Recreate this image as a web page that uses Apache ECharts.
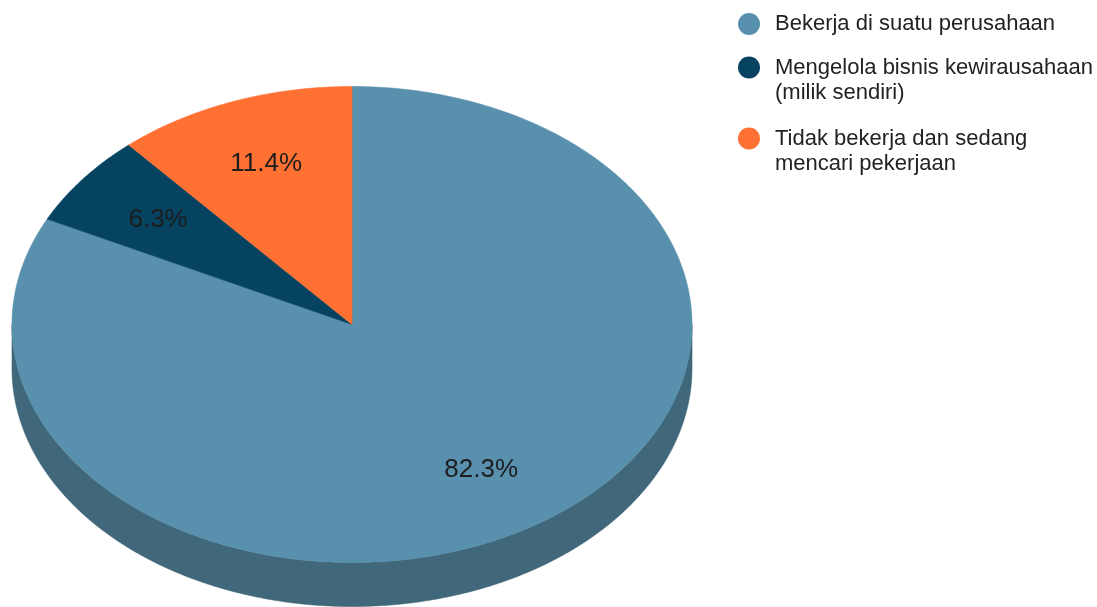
<!DOCTYPE html>
<html>
<head>
<meta charset="utf-8">
<title>Status pekerjaan</title>
<script src="https://cdn.jsdelivr.net/npm/echarts@6.0.0/dist/echarts.min.js"></script>
<style>
  html, body { margin: 0; padding: 0; background: #ffffff; }
  #chart { width: 1097px; height: 607px; }
</style>
</head>
<body>
<div id="chart"></div>
<script>
// Categories and their shares (percent)
const categories = [
  'Bekerja di suatu perusahaan',
  'Mengelola bisnis kewirausahaan (milik sendiri)',
  'Tidak bekerja dan sedang mencari pekerjaan'
];
const shares = [82.3, 6.3, 11.4];
// Wrapped legend text, one line per entry
const legendLines = [
  ['Bekerja di suatu perusahaan'],
  ['Mengelola bisnis kewirausahaan', '(milik sendiri)'],
  ['Tidak bekerja dan sedang', 'mencari pekerjaan']
];

// Styling
const topColors  = ['#5890ae', '#054361', '#ff7133'];
const sideColors = ['#40677a', '#03304a', '#b85224'];
const FONT = '"Liberation Sans", Arial, "DejaVu Sans", sans-serif';

// Tilted pie geometry
const CX = 352, CY = 324.5, RX = 340, RY = 238, DEPTH = 44;
const LABEL_R = 0.72;

const total = shares.reduce((a, b) => a + b, 0);
const starts = [];
shares.reduce((acc, v, i) => { starts[i] = acc; return acc + v; }, 0);

// Point on the rim, angle measured clockwise from 12 o'clock
function rim(deg, dy, f) {
  const r = deg * Math.PI / 180;
  const k = f == null ? 1 : f;
  return [CX + RX * k * Math.sin(r), CY - RY * k * Math.cos(r) + (dy || 0)];
}
function arc(a0, a1, dy) {
  const pts = [];
  const n = Math.max(2, Math.ceil(Math.abs(a1 - a0) / 0.5));
  for (let s = 0; s <= n; s++) pts.push(rim(a0 + (a1 - a0) * s / n, dy));
  return pts;
}

// Outer wall: only the front half (90..270 deg) is visible
function renderSide(params, api) {
  const i = params.dataIndex;
  const a0 = starts[i] / total * 360;
  const a1 = a0 + api.value(0) / total * 360;
  const b0 = Math.max(a0, 90), b1 = Math.min(a1, 270);
  if (b1 <= b0) return null;
  const pts = arc(b0, b1, 0).concat(arc(b1, b0, DEPTH));
  return {
    type: 'polygon',
    shape: { points: pts },
    style: { fill: sideColors[i], stroke: sideColors[i], lineWidth: 0.6 }
  };
}

// Top face of a slice with its percentage label
function makeTopRenderer(i) {
  return function (params, api) {
    const v = api.value(0);
    const a0 = starts[i] / total * 360;
    const a1 = a0 + v / total * 360;
    const pts = [[CX, CY]].concat(arc(a0, a1, 0));
    const mid = rim((a0 + a1) / 2, 0, LABEL_R);
    return {
      type: 'group',
      children: [
        {
          type: 'polygon',
          shape: { points: pts },
          style: { fill: topColors[i], stroke: topColors[i], lineWidth: 0.6 }
        },
        {
          type: 'text',
          z2: 10,
          style: {
            text: v.toFixed(1) + '%',
            x: mid[0], y: mid[1],
            align: 'center', verticalAlign: 'middle',
            fontSize: 26, fontFamily: FONT, fill: '#1d1d1d'
          }
        }
      ]
    };
  };
}

const series = [{
  name: 'sisi',
  type: 'custom',
  coordinateSystem: 'none',
  z: 1,
  silent: true,
  data: shares.map(v => [v]),
  renderItem: renderSide
}];
categories.forEach((name, i) => {
  series.push({
    name: name,
    type: 'custom',
    coordinateSystem: 'none',
    z: 2,
    itemStyle: { color: topColors[i] },
    data: [[shares[i]]],
    renderItem: makeTopRenderer(i)
  });
});

// One legend block per entry; wrapped entries get an empty leading line
// so the marker stays level with the first line of text
const LINE_H = 25;
const legendTops = [11.5, 30, 101];
const legends = categories.map((name, i) => {
  const lines = legendLines[i];
  const shown = lines.length > 1 ? [''].concat(lines) : lines;
  return {
    orient: 'vertical',
    left: 738,
    top: legendTops[i],
    padding: 0,
    icon: 'circle',
    itemWidth: 42,
    itemHeight: 22,
    selectedMode: false,
    data: [name],
    formatter: () => shown.join('\n'),
    textStyle: {
      fontSize: 22,
      fontFamily: FONT,
      color: '#222222',
      lineHeight: LINE_H
    }
  };
});

const chart = echarts.init(document.getElementById('chart'), null, { renderer: 'canvas' });
chart.setOption({
  animation: false,
  backgroundColor: '#ffffff',
  legend: legends,
  series: series
});
</script>
</body>
</html>
